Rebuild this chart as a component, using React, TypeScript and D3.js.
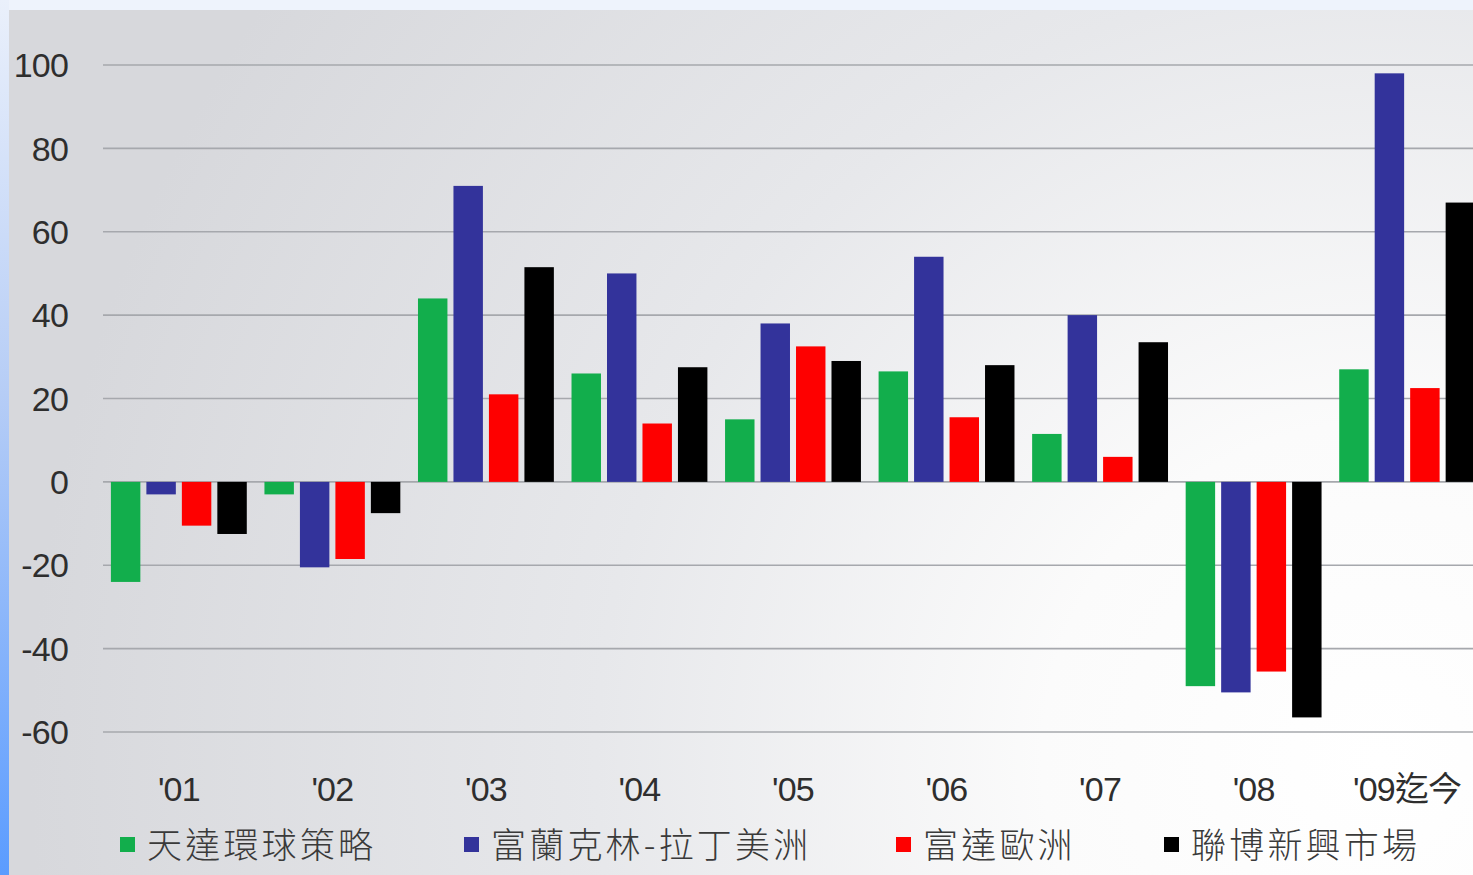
import React from 'react';
import * as d3 from 'd3';

// 年度
const years = ["'01", "'02", "'03", "'04", "'05", "'06", "'07", "'08", "'09迄今"];

// 各基金年度報酬率 (%)
const tianda = [-24, -3, 44, 26, 15, 26.5, 11.5, -49, 27];
const franklinLatam = [-3, -20.5, 71, 50, 38, 54, 40, -50.5, 98];
const fudaEurope = [-10.5, -18.5, 21, 14, 32.5, 15.5, 6, -45.5, 22.5];
const lianboEM = [-12.5, -7.5, 51.5, 27.5, 29, 28, 33.5, -56.5, 67];

const seriesNames = ['天達環球策略', '富蘭克林-拉丁美洲', '富達歐洲', '聯博新興市場'];
const seriesColors = ['#12ae4c', '#33339b', '#fe0000', '#000000'];
const yTicks = [100, 80, 60, 40, 20, 0, -20, -40, -60];

const W = 1473;
const H = 875;

const App: React.FC = () => {
  const series = [tianda, franklinLatam, fudaEurope, lianboEM];

  const y = d3.scaleLinear().domain([-60, 100]).range([732, 65]);
  const x0 = d3.scaleBand<string>().domain(years).range([102, 1484]).paddingInner(0.115).paddingOuter(0.058);
  const x1 = d3.scaleBand<number>().domain(d3.range(4)).range([0, x0.bandwidth()]).paddingInner(0.17);

  // 圖例位置
  const legendX = [120, 464, 896, 1164];

  const numFont = '"Liberation Sans", Arial, sans-serif';
  const cjkFont = '"Liberation Sans", "Noto Sans CJK TC", sans-serif';

  return (
    <div style={{ position: 'absolute', left: 0, top: 0, width: W, height: H }}>
      <svg width={W} height={H} style={{ display: 'block' }}>
        <defs>
          <radialGradient id="bg" cx="1380" cy="760" r="1350" gradientUnits="userSpaceOnUse">
            <stop offset="0%" stopColor="#ffffff" />
            <stop offset="25%" stopColor="#fbfbfb" />
            <stop offset="58%" stopColor="#e7e8eb" />
            <stop offset="100%" stopColor="#d7d8dc" />
          </radialGradient>
          <linearGradient id="leftBar" x1="0" y1="0" x2="0" y2="1">
            <stop offset="0%" stopColor="#eaf0fb" />
            <stop offset="45%" stopColor="#b6cdf6" />
            <stop offset="100%" stopColor="#5b9cff" />
          </linearGradient>
        </defs>

        <rect x={0} y={0} width={W} height={H} fill="url(#bg)" />
        <rect x={0} y={0} width={W} height={10} fill="#eef3fc" />
        <rect x={0} y={0} width={9} height={H} fill="url(#leftBar)" />

        {/* 格線 */}
        {yTicks.map(t => (
          <line key={t} x1={103} x2={W} y1={y(t)} y2={y(t)} stroke="#a6a8ad" strokeWidth={1.6} />
        ))}

        {/* Y 軸刻度 */}
        {yTicks.map(t => (
          <text key={'t' + t} x={68} y={y(t)} dy="0.36em" textAnchor="end"
            fontFamily={numFont} fontSize={34} fill="#2e2e2e" letterSpacing={-0.8}>
            {t}
          </text>
        ))}

        {/* 柱狀 */}
        {years.map((yr, i) => (
          <g key={yr} transform={`translate(${x0(yr)},0)`}>
            {series.map((s, j) => {
              const v = s[i];
              return (
                <rect key={j} x={x1(j)} width={x1.bandwidth()}
                  y={Math.min(y(v), y(0))} height={Math.abs(y(v) - y(0))}
                  fill={seriesColors[j]} />
              );
            })}
          </g>
        ))}

        {/* X 軸標籤 */}
        {years.map(yr => (
          <text key={'x' + yr} x={x0(yr)! + x0.bandwidth() / 2} y={801} textAnchor="middle"
            fontFamily={cjkFont} fontSize={34} fill="#2e2e2e" letterSpacing={-0.8}>
            {yr}
          </text>
        ))}

        {/* 圖例 */}
        {seriesNames.map((n, i) => (
          <g key={n} transform={`translate(${legendX[i]},0)`}>
            <rect x={0} y={837} width={15} height={15} fill={seriesColors[i]} />
            <text x={27} y={858} fontFamily='"Noto Sans CJK TC", sans-serif' fontSize={35}
              fill="#3a3a3a" fontWeight={300} letterSpacing={3.2}>
              {n}
            </text>
          </g>
        ))}
      </svg>
    </div>
  );
};

export default App;
